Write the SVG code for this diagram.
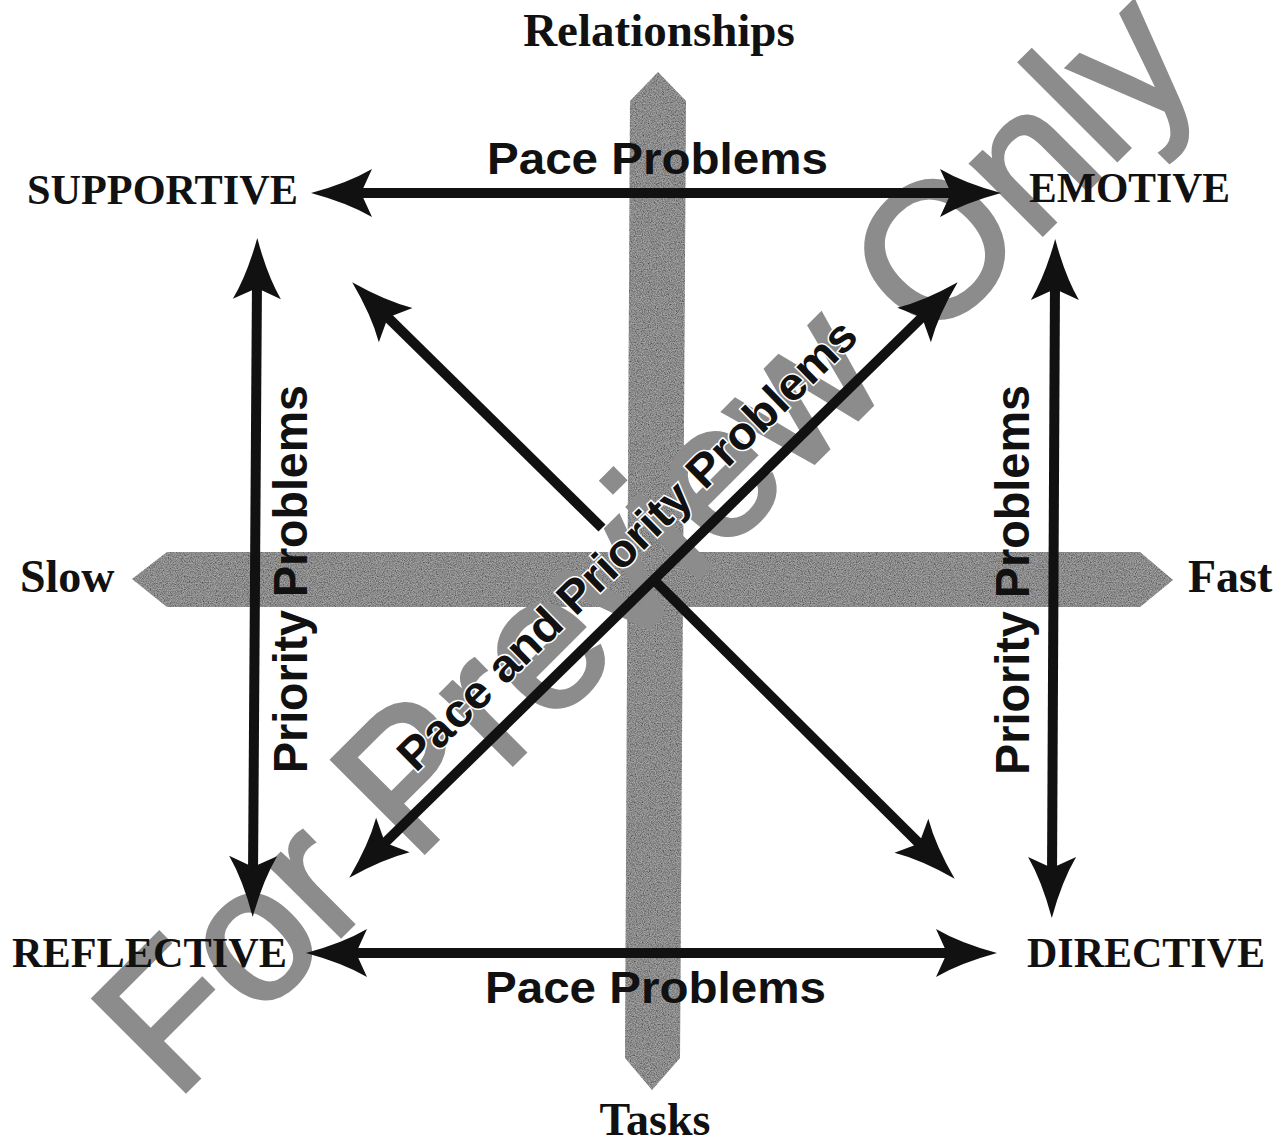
<svg xmlns="http://www.w3.org/2000/svg" width="1286" height="1144" viewBox="0 0 1286 1144">
<style>
.serif{font-family:"Liberation Serif","Times New Roman",serif;font-weight:bold;fill:#111}
.sans{font-family:"Liberation Sans",Arial,sans-serif;font-weight:bold;fill:#111}
.wm{font-family:"Liberation Sans",Arial,sans-serif;font-weight:normal;fill:#8c8c8c;stroke:#8c8c8c;stroke-width:4;stroke-linejoin:miter}
.ln{stroke:#111;stroke-width:10;fill:none}
.bar{fill:#a6a6a6}
</style>
<defs>
<marker id="ah" markerUnits="userSpaceOnUse" markerWidth="80" markerHeight="60" refX="0" refY="0" orient="auto-start-reverse" overflow="visible">
<path d="M41,0 Q4,-10 -20,-24 L-9,0 L-20,24 Q4,10 41,0 Z" fill="#111"/>
</marker>
<filter id="grain" x="0" y="0" width="1" height="1">
<feTurbulence type="fractalNoise" baseFrequency="0.85" numOctaves="2" seed="7" result="t"/>
<feColorMatrix in="t" type="matrix" values="0 0 0 0 0  0 0 0 0 0  0 0 0 0 0  1.4 0 0 0 -0.38" result="dark"/>
<feComposite in="dark" in2="SourceGraphic" operator="in" result="d2"/>
<feMerge><feMergeNode in="SourceGraphic"/><feMergeNode in="d2"/></feMerge>
</filter>
</defs>
<rect width="1286" height="1144" fill="#fff"/>

<g id="axes" filter="url(#grain)">
<polygon id="axis-vertical" class="bar" points="658,72 686,101 680,1058 652,1090 625,1058 630,101"/>
<polygon id="axis-horizontal" class="bar" points="132,579 167,552 1140,552 1173,580 1140,607 167,607"/>
</g>

<g id="watermark">
<text class="wm" font-size="190" transform="translate(175,1102) rotate(-45)">For Preview Only</text>
</g>

<g id="connectors">
<line class="ln" x1="352" y1="193" x2="960" y2="193" marker-start="url(#ah)" marker-end="url(#ah)"/>
<line class="ln" x1="347" y1="953" x2="956" y2="953" marker-start="url(#ah)" marker-end="url(#ah)"/>
<line class="ln" x1="257" y1="279" x2="253" y2="876" marker-start="url(#ah)" marker-end="url(#ah)"/>
<line class="ln" x1="1055" y1="280" x2="1052" y2="877" marker-start="url(#ah)" marker-end="url(#ah)"/>
<line class="ln" x1="381.4" y1="311.1" x2="602" y2="528" marker-start="url(#ah)"/>
<line class="ln" x1="652" y1="578" x2="925.6" y2="849.9" marker-end="url(#ah)"/>
<line class="ln" x1="378.6" y1="849" x2="928.4" y2="311" marker-start="url(#ah)" marker-end="url(#ah)"/>
</g>

<g id="axis-labels">
<text id="relationships" class="serif" font-size="47" x="659" y="46" text-anchor="middle">Relationships</text>
<text id="tasks" class="serif" font-size="46" x="655" y="1135" text-anchor="middle">Tasks</text>
<text id="slow" class="serif" font-size="46" x="20" y="592">Slow</text>
<text id="fast" class="serif" font-size="46" x="1188" y="592">Fast</text>
</g>

<g id="node-supportive"><text class="serif" font-size="42" x="27" y="204" textLength="271" lengthAdjust="spacingAndGlyphs">SUPPORTIVE</text></g>
<g id="node-emotive"><text class="serif" font-size="42" x="1029" y="202" textLength="201" lengthAdjust="spacingAndGlyphs">EMOTIVE</text></g>
<g id="node-reflective"><text class="serif" font-size="42" x="12" y="967" textLength="275" lengthAdjust="spacingAndGlyphs">REFLECTIVE</text></g>
<g id="node-directive"><text class="serif" font-size="42" x="1027" y="967" textLength="238" lengthAdjust="spacingAndGlyphs">DIRECTIVE</text></g>

<g id="edge-labels">
<text class="sans" font-size="44" x="487" y="174" textLength="341" lengthAdjust="spacingAndGlyphs">Pace Problems</text>
<text class="sans" font-size="44" x="485" y="1003" textLength="341" lengthAdjust="spacingAndGlyphs">Pace Problems</text>
<text class="sans" font-size="48" transform="translate(307,773) rotate(-90)" textLength="388" lengthAdjust="spacingAndGlyphs">Priority Problems</text>
<text class="sans" font-size="48" transform="translate(1029,775) rotate(-90)" textLength="390" lengthAdjust="spacingAndGlyphs">Priority Problems</text>
<text class="sans" font-size="46" transform="translate(638,556) rotate(-44.37)" text-anchor="middle" textLength="622" lengthAdjust="spacingAndGlyphs" stroke="#fff" stroke-width="3" paint-order="stroke">Pace and Priority Problems</text>
</g>
</svg>
